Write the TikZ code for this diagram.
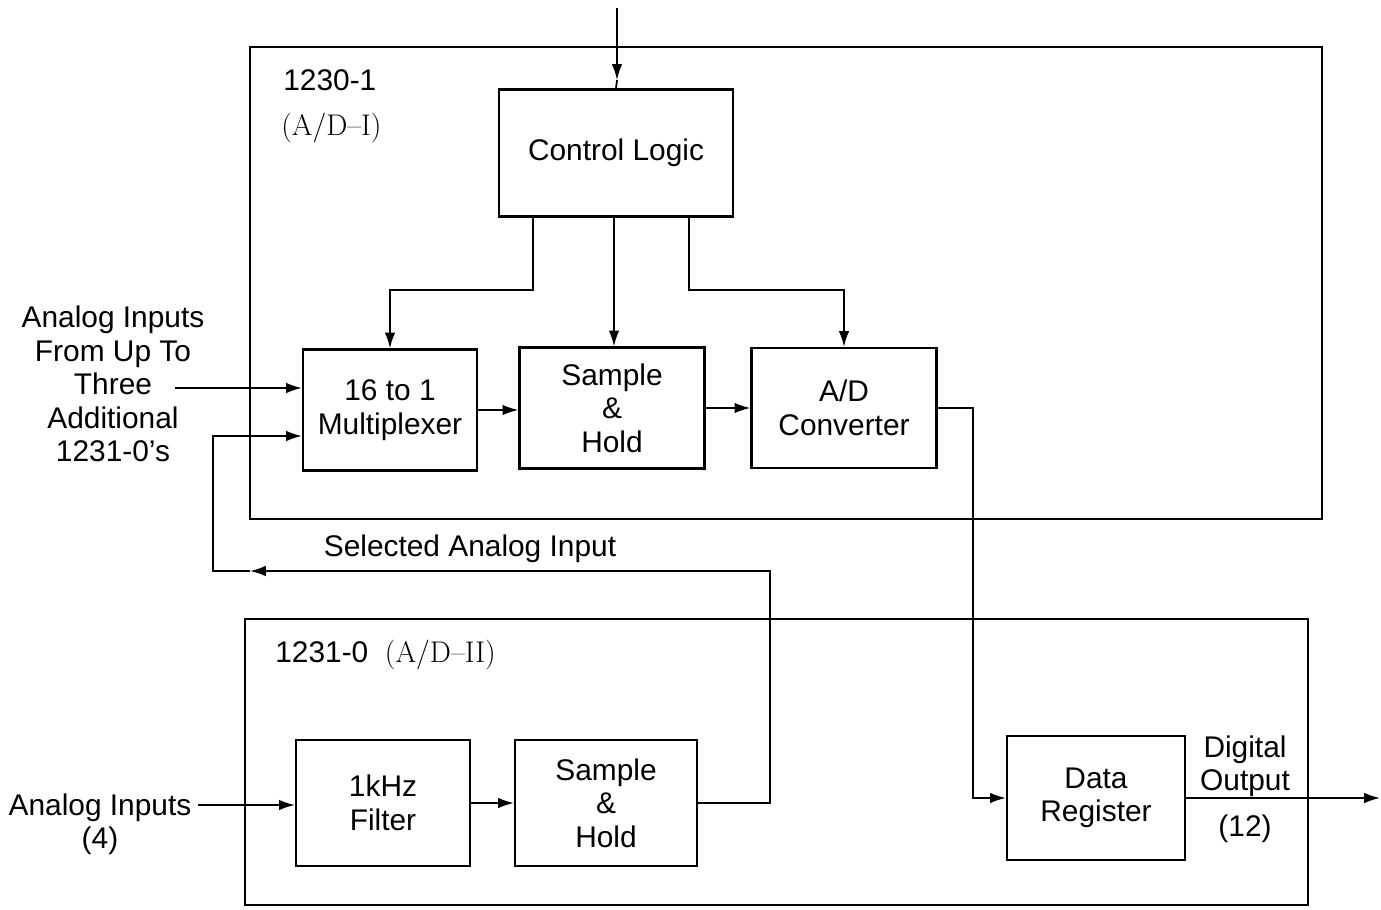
\documentclass[tikz,border=0pt]{standalone}
\usepackage{fontspec}
\setsansfont{Liberation Sans}
\usetikzlibrary{arrows.meta}
\begin{document}
\begin{tikzpicture}
			[x=0.02cm,y=-0.02cm,>={Latex[length=9pt,width=6pt]},
			box/.style 2 args={draw,line width=1.3pt,minimum width=#1,minimum height=#2,align=center,inner sep=0pt},
			txt/.style={align=center,inner sep=0pt},
			wire/.style={line width=1pt},
			font=\sffamily\fontsize{17}{19}\selectfont]
			\useasboundingbox(0,0)rectangle(1381,909);
			% the two units
			\draw[line width=1.4pt](250,47)rectangle(1322,519);
			\draw[line width=1.4pt](245,619)rectangle(1308,905);
			\node[txt,anchor=west]at(283,80){1230-1};
			\node[txt,anchor=west]at(281,128){\rmfamily(A/D--I)};
			\node[txt,anchor=west]at(275,655){1231-0\ \ \rmfamily(A/D--II)};
			% blocks
			\node[box={4.68cm}{2.54cm},name=ctrl]at(616,153){Control Logic};
			\node[box={3.48cm}{2.42cm},name=mux]at(390,410){16 to 1\\Multiplexer};
			\node[box={3.7cm}{2.42cm},name=sha]at(612,408){Sample\\\&\\Hold};
			\node[box={3.7cm}{2.4cm},name=adc]at(844,408){A/D\\Converter};
			\node[box={3.48cm}{2.52cm},name=filt]at(383,803){1kHz\\Filter};
			\node[box={3.64cm}{2.52cm},name=shb]at(606,803){Sample\\\&\\Hold};
			\node[box={3.56cm}{2.48cm},name=reg]at(1096,798){Data\\Register};
			% outside labels
			\node[txt,name=ina]at(113,384){Analog Inputs\\From Up To\\Three\\Additional\\1231-0’s};
			\node[txt,name=inb]at(100,824){Analog Inputs\\(4)};
			\node[txt,name=sel]at(470,549){Selected Analog Input};
			\node[txt,name=dout]at(1245,766){Digital\\Output};
			\node[txt,name=nbits]at(1245,829){(12)};
			\coordinate(top)at(617,8);
			\coordinate(topm)at(617,80);
			\coordinate(ina0)at(175,388);
			\coordinate(inb0)at(198,805);
			\coordinate(ret)at(770,571);
			\coordinate(retm)at(250,571);
			\coordinate(retl)at(213,571);
			\coordinate(adcr)at(973,408);
			\coordinate(out)at(1380,798);
			% control lines
			\draw[->,wire](top)--(topm);
			\draw[wire](topm)--(ctrl.north);
			\draw[->,wire](ctrl.south-|533,0)--(533,290)-|(mux.north);
			\draw[->,wire](ctrl.south-|614,0)--(sha.north-|614,0);
			\draw[->,wire](ctrl.south-|689,0)--(689,290)-|(adc.north);
			% signal path
			\draw[->,wire](ina0)--(ina0-|mux.west);
			\draw[->,wire](mux.east)--(mux.east-|sha.west);
			\draw[->,wire](sha.east)--(sha.east-|adc.west);
			\draw[->,wire](adc.east)--(adcr)|-(reg.west);
			\draw[->,wire](reg.east)--(out);
			\draw[->,wire](inb0)--(inb0-|filt.west);
			\draw[->,wire](filt.east)--(filt.east-|shb.west);
			\draw[->,wire](shb.east)-|(ret)--(retm);
			\draw[->,wire](retm)--(retl)|-(mux.west|-0,436);
		\end{tikzpicture}
\end{document}
